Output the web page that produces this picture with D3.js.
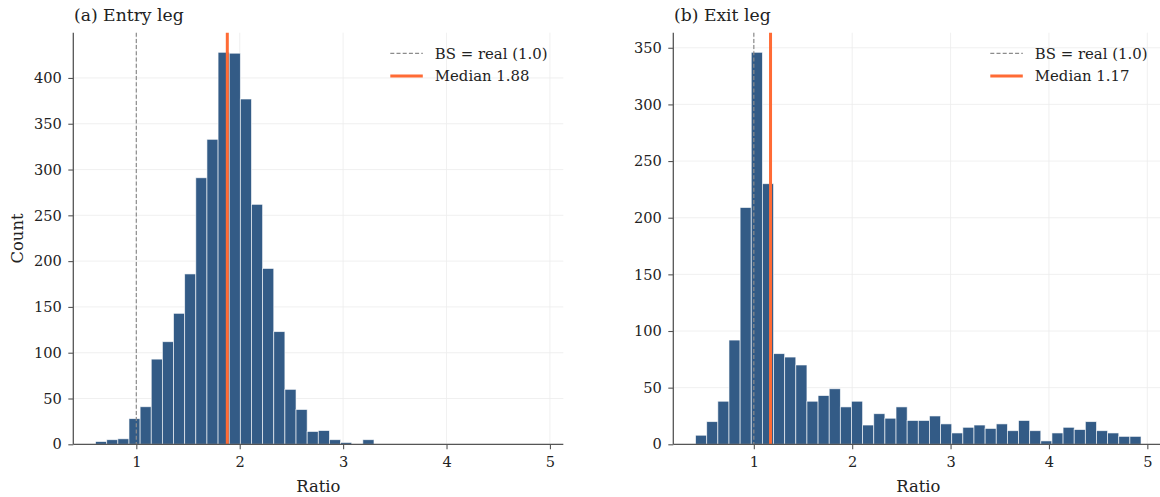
<!DOCTYPE html>
<html>
<head>
<meta charset="utf-8">
<script src="https://cdn.jsdelivr.net/npm/d3@7"></script>
<style>
  html, body { margin: 0; padding: 0; background: #ffffff; }
  svg { display: block; font-family: "DejaVu Serif", serif; }
</style>
</head>
<body>
<svg id="chart" width="1160" height="497"></svg>
<script>
// ---- data ----
const panelTitles = ["(a) Entry leg", "(b) Exit leg"];
const entryCounts = [3, 5, 6, 28, 41, 93, 112, 143, 186, 291, 333, 428, 427, 377, 262, 192, 123, 60, 38, 14,
                     15, 5, 2, 0, 5, 0, 0, 0, 0, 0, 0, 0, 0, 0, 0, 0, 0, 0, 0, 0];
const entryRange = [0.606, 4.914];
const exitCounts = [8, 20, 38, 92, 209, 346, 230, 80, 77, 70, 38, 43, 49, 33, 38, 17, 27, 23, 33, 21,
                    21, 25, 18, 10, 15, 17, 14, 18, 12, 21, 12, 3, 10, 15, 13, 20, 12, 10, 7, 7];
const exitRange = [0.408, 4.936];
const medians = [1.88, 1.17];
const referenceValue = 1.0;
const xTicks = [1, 2, 3, 4, 5];
const entryYTicks = [0, 50, 100, 150, 200, 250, 300, 350, 400];
const exitYTicks = [0, 50, 100, 150, 200, 250, 300, 350];
const legendLabels = ["BS = real (1.0)", "Median 1.88", "Median 1.17"];
const xLabel = "Ratio";
const yLabel = "Count";

// ---- styles / layout ----
const barFill = "#335b86";
const medianColor = "#ff6b35";
const refColor = "#8c8c8c";
const spineColor = "#555555";
const gridColor = "#ececec";

const svg = d3.select("#chart");

const panels = [
  { title: panelTitles[0], counts: entryCounts, range: entryRange, median: medians[0],
    yTicks: entryYTicks, medLabel: legendLabels[1], left: 73.3, right: 563.3, showYLabel: true },
  { title: panelTitles[1], counts: exitCounts, range: exitRange, median: medians[1],
    yTicks: exitYTicks, medLabel: legendLabels[2], left: 673.3, right: 1163.3, showYLabel: false }
];
const plotTop = 32.7, plotBottom = 444.3;

panels.forEach(p => {
  const n = p.counts.length;
  const w = (p.range[1] - p.range[0]) / n;
  const bins = p.counts.map((c, i) => ({ x0: p.range[0] + i * w, x1: p.range[0] + (i + 1) * w, c }));
  const span = p.range[1] - p.range[0];
  const x = d3.scaleLinear().domain([p.range[0] - 0.05 * span, p.range[1] + 0.05 * span]).range([p.left, p.right]);
  const maxC = d3.max(p.counts);
  const y = d3.scaleLinear().domain([0, maxC * 1.05]).range([plotBottom, plotTop]);

  const g = svg.append("g");

  // grid
  g.append("g").selectAll("line").data(p.yTicks).join("line")
    .attr("x1", p.left).attr("x2", p.right)
    .attr("y1", d => y(d)).attr("y2", d => y(d))
    .attr("stroke", gridColor).attr("stroke-width", 0.8);
  g.append("g").selectAll("line").data(xTicks).join("line")
    .attr("x1", d => x(d)).attr("x2", d => x(d))
    .attr("y1", plotTop).attr("y2", plotBottom)
    .attr("stroke", gridColor).attr("stroke-width", 0.8);

  // bars
  g.append("g").selectAll("rect").data(bins.filter(b => b.c > 0)).join("rect")
    .attr("x", d => x(d.x0)).attr("width", d => x(d.x1) - x(d.x0))
    .attr("y", d => y(d.c)).attr("height", d => y(0) - y(d.c))
    .attr("fill", barFill)
    .attr("stroke", "#ffffff").attr("stroke-opacity", 0.75).attr("stroke-width", 0.8);

  // reference line
  g.append("line")
    .attr("x1", x(referenceValue)).attr("x2", x(referenceValue))
    .attr("y1", plotTop).attr("y2", plotBottom)
    .attr("stroke", refColor).attr("stroke-width", 1.2).attr("stroke-dasharray", "4,2.2");
  // median line
  g.append("line")
    .attr("x1", x(p.median)).attr("x2", x(p.median))
    .attr("y1", plotTop).attr("y2", plotBottom)
    .attr("stroke", medianColor).attr("stroke-width", 3);

  // axes
  const xAxis = d3.axisBottom(x).tickValues(xTicks).tickFormat(d3.format("d")).tickSize(5).tickPadding(7);
  const gx = g.append("g").attr("transform", `translate(0,${plotBottom})`).call(xAxis);
  const yAxis = d3.axisLeft(y).tickValues(p.yTicks).tickFormat(d3.format("d")).tickSize(5).tickPadding(6.5);
  const gy = g.append("g").attr("transform", `translate(${p.left},0)`).call(yAxis);
  [gx, gy].forEach(a => {
    a.select(".domain").remove();
    a.selectAll(".tick line").attr("stroke", spineColor).attr("stroke-width", 1.1);
    a.selectAll(".tick text").attr("fill", "#222").style("font-family", "'DejaVu Serif', serif").style("font-size", "14.6px");
  });
  // spines
  g.append("line").attr("x1", p.left).attr("x2", p.right).attr("y1", plotBottom).attr("y2", plotBottom)
    .attr("stroke", spineColor).attr("stroke-width", 1.3);
  g.append("line").attr("x1", p.left).attr("x2", p.left).attr("y1", plotTop).attr("y2", plotBottom)
    .attr("stroke", spineColor).attr("stroke-width", 1.3);

  // title
  g.append("text").attr("x", p.left + 0.7).attr("y", 21)
    .attr("fill", "#222").style("font-size", "17.2px").text(p.title);

  // x label
  g.append("text").attr("x", (p.left + p.right) / 2).attr("y", 491.5)
    .attr("text-anchor", "middle").attr("fill", "#222").style("font-size", "16.4px").text(xLabel);
  if (p.showYLabel) {
    g.append("text").attr("transform", `translate(23,${(plotTop + plotBottom) / 2}) rotate(-90)`)
      .attr("text-anchor", "middle").attr("fill", "#222").style("font-size", "16.4px").text(yLabel);
  }

  // legend
  const lx0 = p.right - 173, lx1 = p.right - 140.5, tx = p.right - 128.5;
  const legend = g.append("g");
  legend.append("line").attr("x1", lx0).attr("x2", lx1).attr("y1", 53.3).attr("y2", 53.3)
    .attr("stroke", refColor).attr("stroke-width", 1.2).attr("stroke-dasharray", "4,2.2");
  legend.append("text").attr("x", tx).attr("y", 58.5).attr("fill", "#222")
    .style("font-size", "14.9px").text(legendLabels[0]);
  legend.append("line").attr("x1", lx0).attr("x2", lx1).attr("y1", 76).attr("y2", 76)
    .attr("stroke", medianColor).attr("stroke-width", 3);
  legend.append("text").attr("x", tx).attr("y", 81.2).attr("fill", "#222")
    .style("font-size", "14.9px").text(p.medLabel);
});
</script>
</body>
</html>
